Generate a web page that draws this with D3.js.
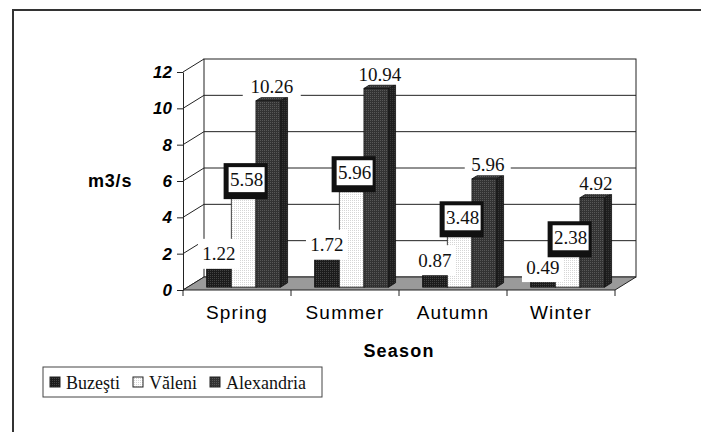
<!DOCTYPE html>
<html>
<head>
<meta charset="utf-8">
<script src="https://cdn.jsdelivr.net/npm/d3@7"></script>
<style>
  html, body { margin: 0; padding: 0; background: #fff; }
  svg { display: block; }
</style>
</head>
<body>
<script>
// Mean seasonal discharge (m3/s) at three gauging stations
const seasons = ["Spring", "Summer", "Autumn", "Winter"];
const seriesNames = ["Buzeşti", "Văleni", "Alexandria"];
const buzesti = [1.22, 1.72, 0.87, 0.49];
const valeni = [5.58, 5.96, 3.48, 2.38];
const alexandria = [10.26, 10.94, 5.96, 4.92];
const yTicks = [0, 2, 4, 6, 8, 10, 12];

const seriesValues = [buzesti, valeni, alexandria];

const W = 701, H = 432;
const svg = d3.select("body").append("svg").attr("width", W).attr("height", H);

// textured fills for the columns
const defs = svg.append("defs");
function dotPattern(id, base, dot) {
  const p = defs.append("pattern").attr("id", id)
    .attr("patternUnits", "userSpaceOnUse").attr("width", 2).attr("height", 2);
  p.append("rect").attr("width", 2).attr("height", 2).attr("fill", base);
  p.append("rect").attr("width", 1).attr("height", 1).attr("fill", dot);
}
dotPattern("fB", "#1c1c1c", "#444");
dotPattern("fBs", "#111", "#2a2a2a");
dotPattern("fV", "#ffffff", "#d6d6d6");
dotPattern("fVs", "#e6e6e6", "#c4c4c4");
dotPattern("fA", "#333", "#585858");
dotPattern("fAs", "#1e1e1e", "#363636");
const fills = [
  { front: "url(#fB)", side: "url(#fBs)" },
  { front: "url(#fV)", side: "url(#fVs)" },
  { front: "url(#fA)", side: "url(#fAs)" }
];

// outer frame
svg.append("path").attr("d", `M13,${H} V10 H${W}`)
  .attr("fill", "none").attr("stroke", "#333").attr("stroke-width", 2);

// scales and oblique depth offset
const y = d3.scaleLinear().domain([0, 12]).range([290, 72]);
const x = d3.scaleBand().domain(seasons).range([183, 615]);
const inner = d3.scaleBand().domain(seriesNames).range([19, 93]);
const DX = 21, DY = -13;
const f1 = 0.22, f2 = 0.55;   // front / back depth of the columns

const x0 = x.range()[0], x1 = x.range()[1];

// back wall
svg.append("rect")
  .attr("x", x0 + DX).attr("y", y(12) + DY)
  .attr("width", x1 - x0).attr("height", y(0) - y(12))
  .attr("fill", "#fff").attr("stroke", "#222").attr("stroke-width", 1);

// gridlines on back wall
svg.append("g").selectAll("line").data(yTicks.filter(t => t > 0 && t < 12)).join("line")
  .attr("x1", x0 + DX).attr("x2", x1 + DX)
  .attr("y1", d => y(d) + DY).attr("y2", d => y(d) + DY)
  .attr("stroke", "#222").attr("stroke-width", 1);

// side wall lines
svg.append("g").selectAll("line").data(yTicks).join("line")
  .attr("x1", x0).attr("y1", d => y(d))
  .attr("x2", x0 + DX).attr("y2", d => y(d) + DY)
  .attr("stroke", "#222").attr("stroke-width", 1);

// floor
svg.append("polygon")
  .attr("points", [[x0, y(0)], [x1, y(0)], [x1 + DX, y(0) + DY], [x0 + DX, y(0) + DY]].map(p => p.join(",")).join(" "))
  .attr("fill", "#9a9a9a").attr("stroke", "#222").attr("stroke-width", 1);

// value axis
const yAxis = svg.append("g").attr("transform", `translate(${x0},0)`)
  .call(d3.axisLeft(y).tickValues(yTicks).tickSize(6).tickSizeOuter(0).tickPadding(5));
yAxis.select(".domain").attr("stroke", "#222");
yAxis.selectAll(".tick line").attr("stroke", "#222");
yAxis.selectAll(".tick text")
  .attr("font-family", "Liberation Sans, Arial, sans-serif")
  .attr("font-size", 17).attr("font-weight", "bold").attr("font-style", "italic")
  .attr("fill", "#000");

// category axis: boundary ticks and labels
const edges = seasons.map(s => x(s)).concat([x1]);
svg.append("g").selectAll("line").data(edges).join("line")
  .attr("x1", d => d).attr("x2", d => d)
  .attr("y1", y(0)).attr("y2", y(0) + 6)
  .attr("stroke", "#222");
svg.append("g").selectAll("text").data(seasons).join("text")
  .attr("x", d => x(d) + x.bandwidth() / 2)
  .attr("y", 319)
  .attr("text-anchor", "middle")
  .attr("font-family", "Liberation Sans, Arial, sans-serif")
  .attr("font-size", 19).attr("letter-spacing", 1.2)
  .text(d => d);

// columns
const bars = [];
seasons.forEach((s, i) => {
  seriesNames.forEach((n, j) => {
    const v = seriesValues[j][i];
    const a = x(s) + inner(n), b = a + inner.bandwidth();
    bars.push({ s, i, j, v, a, b });
  });
});
const fdx = DX * f1, fdy = DY * f1, bdx = DX * f2, bdy = DY * f2;
const pts = arr => arr.map(p => p.join(",")).join(" ");
const gBars = svg.append("g");
bars.forEach(d => {
  const top = y(d.v), base = y(0);
  const g = gBars.append("g");
  g.append("polygon")
    .attr("points", pts([[d.b + fdx, top + fdy], [d.b + bdx, top + bdy], [d.b + bdx, base + bdy], [d.b + fdx, base + fdy]]))
    .attr("fill", fills[d.j].side).attr("stroke", "#111").attr("stroke-width", 0.8);
  g.append("polygon")
    .attr("points", pts([[d.a + fdx, top + fdy], [d.a + bdx, top + bdy], [d.b + bdx, top + bdy], [d.b + fdx, top + fdy]]))
    .attr("fill", fills[d.j].front).attr("stroke", "#111").attr("stroke-width", 0.8);
  g.append("rect")
    .attr("x", d.a + fdx).attr("y", top + fdy)
    .attr("width", d.b - d.a).attr("height", base - top)
    .attr("fill", fills[d.j].front).attr("stroke", "#111").attr("stroke-width", 0.8);
});

// data labels
const serif = "Liberation Serif, Times New Roman, serif";
const fmt = d3.format(".2f");
const gLab = svg.append("g");
function label(cx, cy, txt, boxW, boxH, framed) {
  if (framed) {
    gLab.append("rect").attr("x", cx - boxW / 2 - 5).attr("y", cy - boxH / 2 - 4)
      .attr("width", boxW + 8).attr("height", boxH + 11).attr("fill", "#111");
  }
  gLab.append("rect").attr("x", cx - boxW / 2).attr("y", cy - boxH / 2)
    .attr("width", boxW).attr("height", boxH).attr("fill", "#fff");
  gLab.append("text").attr("x", cx).attr("y", cy + 6.5)
    .attr("text-anchor", "middle").attr("font-family", serif).attr("font-size", 19)
    .attr("fill", "#111").text(txt);
}
// Buzeşti: plain white boxes
bars.filter(d => d.j === 0).forEach(d => {
  label((d.a + d.b) / 2 + fdx, y(d.v) - 14, fmt(d.v), 42, 30, false);
});
// Văleni: framed boxes
bars.filter(d => d.j === 1).forEach(d => {
  label((d.a + d.b) / 2 + fdx + 3, y(d.v) - 9, fmt(d.v), 36, 25, true);
});
// Alexandria: white boxes above the columns
bars.filter(d => d.j === 2).forEach(d => {
  const w = d.v >= 10 ? 58 : 46;
  label((d.a + d.b + fdx + bdx) / 2, y(d.v) - 17, fmt(d.v), w, 21, false);
});

// axis titles
svg.append("text").attr("x", 88).attr("y", 187)
  .attr("font-family", "Liberation Sans, Arial, sans-serif")
  .attr("font-size", 18).attr("font-weight", "bold").attr("letter-spacing", 0.8)
  .text("m3/s");
svg.append("text").attr("x", (x0 + x1) / 2).attr("y", 357)
  .attr("text-anchor", "middle")
  .attr("font-family", "Liberation Sans, Arial, sans-serif")
  .attr("font-size", 18).attr("font-weight", "bold").attr("letter-spacing", 1.2)
  .text("Season");

// legend
const lg = svg.append("g");
lg.append("rect").attr("x", 43).attr("y", 367).attr("width", 279).attr("height", 30)
  .attr("fill", "#fff").attr("stroke", "#444").attr("stroke-width", 1);
const legendX = [50, 133, 210];
seriesNames.forEach((n, j) => {
  lg.append("rect").attr("x", legendX[j]).attr("y", 377).attr("width", 10).attr("height", 10)
    .attr("fill", fills[j].front).attr("stroke", "#222").attr("stroke-width", 1);
  lg.append("text").attr("x", legendX[j] + 16).attr("y", 389)
    .attr("font-family", serif).attr("font-size", 18).attr("fill", "#111").text(n);
});
</script>
</body>
</html>
